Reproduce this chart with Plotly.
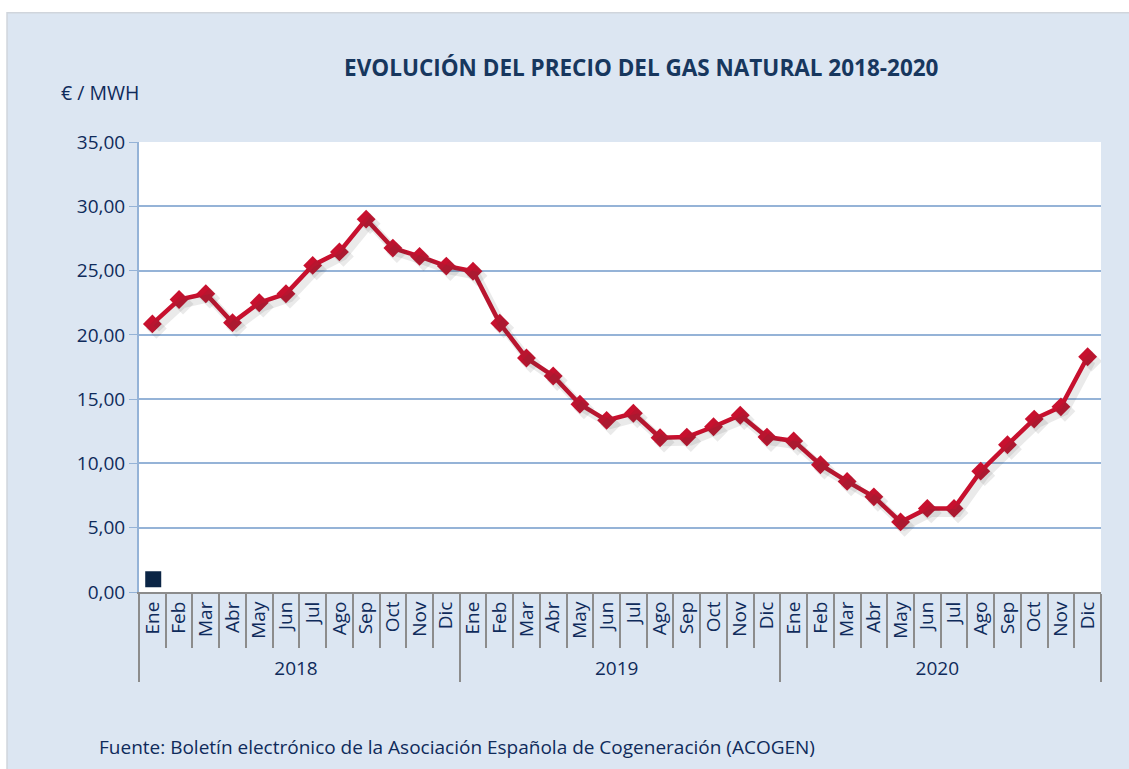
import plotly.graph_objects as go

years = ["2018"] * 12 + ["2019"] * 12 + ["2020"] * 12
months = ["Ene", "Feb", "Mar", "Abr", "May", "Jun", "Jul", "Ago", "Sep", "Oct", "Nov", "Dic"] * 3
precio = [
    20.85, 22.75, 23.2, 20.95, 22.5, 23.2, 25.4, 26.45, 29.0, 26.75, 26.1, 25.35,
    24.95, 20.9, 18.2, 16.8, 14.6, 13.35, 13.9, 12.0, 12.05, 12.85, 13.75, 12.05,
    11.75, 9.9, 8.6, 7.4, 5.45, 6.5, 6.5, 9.4, 11.45, 13.45, 14.4, 18.3,
]
y_ticks = [0, 5, 10, 15, 20, 25, 30, 35]

TXT = "#0f2b5b"
FONT = "Open Sans"
RED = "#c8102e"

fig = go.Figure()
# soft drop shadow, drawn on an overlay axis pair shifted a few pixels
fig.add_trace(go.Scatter(
    x=[years, months], y=precio, mode="lines+markers",
    line=dict(color="rgba(60,60,60,0.11)", width=8),
    marker=dict(symbol="diamond", size=16, color="rgba(60,60,60,0.11)"),
    xaxis="x2", yaxis="y2", showlegend=False, hoverinfo="skip",
))
fig.add_trace(go.Scatter(
    x=[years, months], y=precio, mode="lines+markers",
    line=dict(color=RED, width=4.5),
    marker=dict(symbol="diamond", size=14.5, color=RED),
    showlegend=False, hoverinfo="y",
))
# empty legend key (dark square) as in the original
fig.add_trace(go.Scatter(
    x=[None], y=[None], mode="markers", name=" ",
    marker=dict(symbol="square", size=19, color="#0b2545"),
    showlegend=True,
))

fig.update_layout(
    width=1129, height=769,
    margin=dict(l=139, r=28, t=142, b=177),
    paper_bgcolor="#dce6f2",
    plot_bgcolor="#ffffff",
    font=dict(family=FONT, color=TXT, size=16),
    title=dict(text="<b>EVOLUCIÓN DEL PRECIO DEL GAS NATURAL 2018-2020</b>",
               x=0.568, xanchor="center", y=0.912, yanchor="middle",
               font=dict(size=22.5, color="#17375e", family=FONT)),
    separators=",.",
    legend=dict(x=-0.006, y=-0.004, xanchor="left", yanchor="bottom",
                bgcolor="rgba(0,0,0,0)", itemwidth=30, font=dict(size=2)),
    xaxis=dict(
        type="multicategory",
        range=[-0.5, 35.5],
        tickangle=-90,
        tickfont=dict(size=19, color=TXT),
        showline=True, linecolor="#8c8c8c", linewidth=2,
        ticks="outside", ticklen=54, tickcolor="#8c8c8c", tickwidth=2,
        showdividers=True, dividercolor="#8c8c8c", dividerwidth=2,
        showgrid=False,
    ),
    xaxis2=dict(
        type="multicategory", overlaying="x", range=[-0.65, 35.35],
        visible=False, showgrid=False,
    ),
    yaxis=dict(
        range=[0, 35], tickvals=y_ticks, tickformat=".2f",
        tickfont=dict(size=19, color=TXT),
        showgrid=True, gridcolor="#95b3d7", gridwidth=1.5,
        showline=True, linecolor="#95b3d7", linewidth=2,
        ticks="outside", ticklen=8, tickcolor="#95b3d7",
        zeroline=False,
    ),
    yaxis2=dict(
        overlaying="y", range=[0.35, 35.35], visible=False, showgrid=False,
        zeroline=False,
    ),
    shapes=[
        dict(type="rect", xref="paper", yref="paper", x0=-0.2, x1=1.1, y0=1.287, y1=1.35,
             fillcolor="#ffffff", line=dict(width=0), layer="below"),
        dict(type="rect", xref="paper", yref="paper", x0=-0.2, x1=-0.1372, y0=-0.5, y1=1.35,
             fillcolor="#ffffff", line=dict(width=0), layer="below"),
        dict(type="rect", xref="paper", yref="paper", x0=-0.1372, x1=1.04, y0=-0.45, y1=1.287,
             fillcolor="rgba(0,0,0,0)", line=dict(width=1.5, color="#d0d5dc"), layer="below"),
    ],
    annotations=[
        dict(text="€ / MWH", xref="paper", yref="paper", x=-0.083, y=1.111,
             xanchor="left", yanchor="middle", showarrow=False,
             font=dict(size=19.5, color=TXT)),
        dict(text="Fuente: Boletín electrónico de la Asociación Española de Cogeneración (ACOGEN)",
             xref="paper", yref="paper", x=-0.044, y=-0.344,
             xanchor="left", yanchor="middle", showarrow=False,
             font=dict(size=19, color=TXT)),
    ],
)

fig.write_html("out.html", config={"displayModeBar": False},
               post_script="document.body.style.margin='0';")
